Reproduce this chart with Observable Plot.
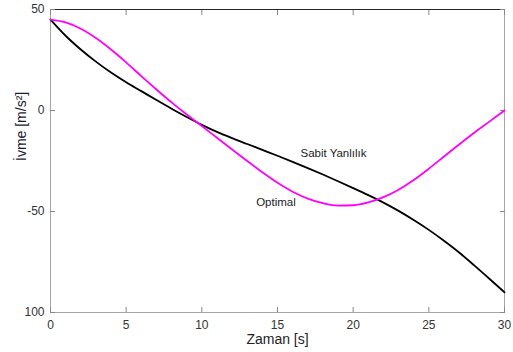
<!DOCTYPE html>
<html><head><meta charset="utf-8">
<script src="https://cdn.jsdelivr.net/npm/d3@7"></script>
<script src="https://cdn.jsdelivr.net/npm/@observablehq/plot@0.6"></script>
<style>body{margin:0;background:#fff;} #chart svg{display:block;}</style>
</head><body><div id="chart"></div>
<script>
const time = [0,1,2,3,4,5,6,7,8,9,10,11,12,13,14,15,16,17,18,19,20,21,22,23,24,25,26,27,28,29,30];
const sabitYanlilik = [45,37.0,30.2,24.2,18.8,14.0,9.6,5.2,0.9,-3.2,-7.1,-10.6,-13.7,-16.6,-19.5,-22.4,-25.4,-28.5,-31.7,-35.0,-38.4,-41.9,-45.6,-49.7,-54.2,-59.1,-64.5,-70.3,-76.7,-83.3,-90];
const optimal = [45,43.6,40.5,35.9,30.2,23.8,17.0,10.4,4.0,-2.0,-7.7,-13.5,-19.3,-25.0,-30.6,-35.8,-40.2,-43.6,-45.9,-47.1,-46.9,-45.5,-42.9,-39.2,-34.4,-28.8,-22.8,-16.8,-11.0,-5.5,0];
const seriesNames = ["Sabit Yanlılık", "Optimal"];
const seriesColors = ["#000000", "#ff00ff"];
const xTicks = [0,5,10,15,20,25,30];
const yTicks = [50,0,-50,-100];
const yTickLabels = ["50","0","-50","100"];
const labelX = [18.7, 14.9];
const labelY = [-21.1, -45.4];
const xTitle = "Zaman [s]";
const yTitle = "İvme [m/s²]";

const rows = [];
time.forEach((t,i) => {
  rows.push({t, v: sabitYanlilik[i], s: seriesNames[0]});
  rows.push({t, v: optimal[i], s: seriesNames[1]});
});
const labels = seriesNames.map((n,i) => ({x: labelX[i], y: labelY[i], n}));

const plot = Plot.plot({
  width: 513, height: 352,
  marginLeft: 50, marginRight: 9, marginTop: 9, marginBottom: 40,
  style: {fontFamily: "'Liberation Sans', Arial, sans-serif", fontSize: "12px", color: "#333", background: "#fff"},
  x: {domain: [0,30]},
  y: {domain: [-100,50]},
  color: {domain: seriesNames, range: seriesColors},
  marks: [
    Plot.frame({stroke: "#a6a6a6"}),
    Plot.ruleY([50], {stroke: "#262626"}),
    Plot.axisX(xTicks, {anchor: "bottom", tickSize: 0, tickPadding: 8, label: null, fontSize: 12, fill: "#333"}),
    Plot.axisX(xTicks, {anchor: "bottom", tickSize: -5, text: null, label: null, stroke: "#888"}),
    Plot.axisX(xTicks, {anchor: "top", tickSize: -5, text: null, label: null, stroke: "#888"}),
    Plot.axisY(yTicks, {anchor: "left", tickSize: 0, tickPadding: 6, label: null, fontSize: 12, fill: "#333", tickFormat: d => yTickLabels[yTicks.indexOf(d)]}),
    Plot.axisY(yTicks, {anchor: "left", tickSize: -5, text: null, label: null, stroke: "#888"}),
    Plot.axisY(yTicks, {anchor: "right", tickSize: -5, text: null, label: null, stroke: "#888"}),
    Plot.line(rows, {x: "t", y: "v", z: "s", stroke: "s", strokeWidth: 1.8, curve: "monotone-x"}),
    Plot.text(labels, {x: "x", y: "y", text: "n", fontSize: 11.5, fill: "#222"}),
    Plot.text([xTitle], {frameAnchor: "bottom", dy: 31, fontSize: 14, fill: "#222"}),
    Plot.text([yTitle], {frameAnchor: "left", dx: -29, rotate: -90, fontSize: 14, fill: "#1a1a33"})
  ]
});
document.getElementById("chart").appendChild(plot);
</script>
</body></html>
